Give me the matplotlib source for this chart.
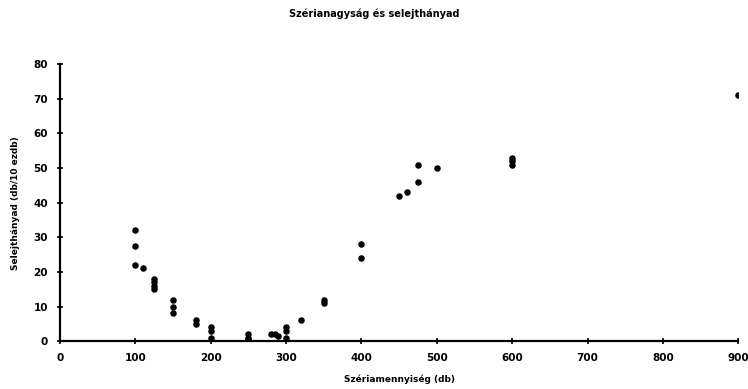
import matplotlib
matplotlib.use("Agg")
import matplotlib.pyplot as plt

# batch size (pieces) and scrap rate readings
batch_size = [100, 100, 100, 110, 125, 125, 125, 125, 150, 150, 150,
              180, 180, 200, 200, 200, 250, 250, 250, 280, 285, 290,
              300, 300, 300, 320, 350, 350, 400, 400, 450, 460, 475, 475,
              500, 600, 600, 600, 900]
scrap_rate = [32, 27.5, 22, 21, 18, 17, 16, 15, 12, 10, 8,
              6, 5, 4, 3, 1, 2, 1, 0.5, 2, 2, 1.5,
              4, 3, 1, 6, 12, 11, 28, 24, 42, 43, 51, 46,
              50, 53, 52, 51, 71]

x_ticks = list(range(0, 901, 100))
y_ticks = list(range(0, 81, 10))

fig = plt.figure(figsize=(7.48, 3.89), dpi=100)
ax = fig.add_axes([0.080, 0.123, 0.907, 0.712])

ax.scatter(batch_size, scrap_rate, s=22, c="black", marker="o", linewidths=0, zorder=3)

ax.set_xlim(0, 900)
ax.set_ylim(0, 80)
ax.set_xticks(x_ticks)
ax.set_yticks(y_ticks)
ax.tick_params(direction="inout", length=5, width=1.2, labelsize=7.5, pad=6)
for lbl in ax.get_xticklabels() + ax.get_yticklabels():
    lbl.set_fontweight("bold")

for side in ("top", "right"):
    ax.spines[side].set_visible(False)
for side in ("left", "bottom"):
    ax.spines[side].set_linewidth(1.6)

ax.set_xlabel("Szériamennyiség (db)", fontsize=6.5, fontweight="bold", labelpad=8)
ax.set_ylabel("Selejthányad (db/10 ezdb)", fontsize=6.5, fontweight="bold", labelpad=10)
fig.text(0.5, 0.965, "Szérianagyság és selejthányad", ha="center", va="center",
         fontsize=7, fontweight="bold")

fig.savefig("out.png", dpi=100)
